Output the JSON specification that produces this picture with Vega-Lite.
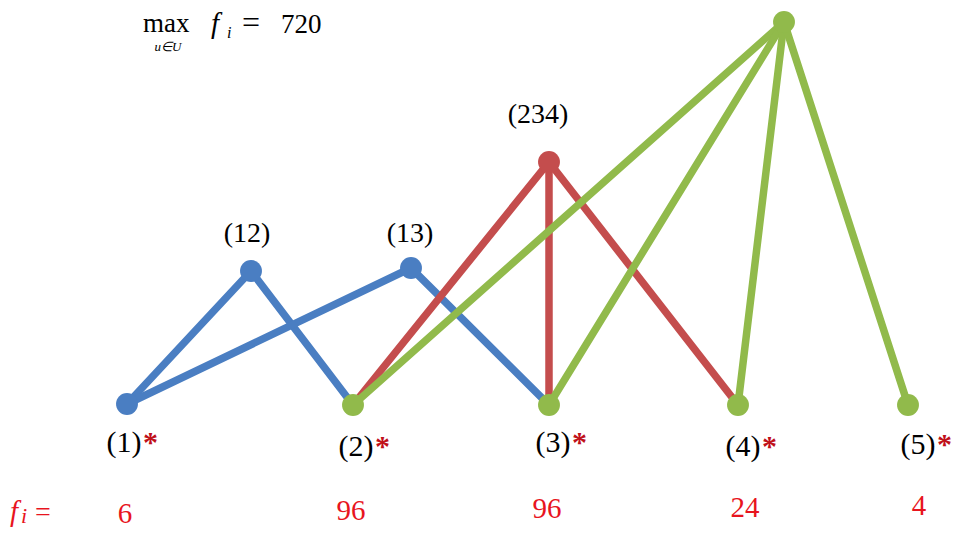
{
  "$schema": "https://vega.github.io/schema/vega-lite/v6.json",
  "width": 960,
  "height": 533,
  "autosize": {"type": "fit", "contains": "padding"},
  "padding": 0,
  "background": "white",
  "config": {"view": {"stroke": null}},
  "datasets": {
    "edges": [
      {"edge": "1-12", "grp": "a", "x": 127, "y": 404, "x2": 251, "y2": 271},
      {"edge": "12-2", "grp": "a", "x": 251, "y": 271, "x2": 353, "y2": 405},
      {"edge": "1-13", "grp": "a", "x": 127, "y": 404, "x2": 411, "y2": 268},
      {"edge": "13-3", "grp": "a", "x": 411, "y": 268, "x2": 549, "y2": 405},
      {"edge": "234-2", "grp": "b", "x": 549, "y": 162, "x2": 353, "y2": 405},
      {"edge": "234-3", "grp": "b", "x": 549, "y": 162, "x2": 549, "y2": 405},
      {"edge": "234-4", "grp": "b", "x": 549, "y": 162, "x2": 738, "y2": 405},
      {"edge": "top-2", "grp": "c", "x": 784, "y": 22, "x2": 353, "y2": 405},
      {"edge": "top-3", "grp": "c", "x": 784, "y": 22, "x2": 549, "y2": 405},
      {"edge": "top-4", "grp": "c", "x": 784, "y": 22, "x2": 738, "y2": 405},
      {"edge": "top-5", "grp": "c", "x": 784, "y": 22, "x2": 908, "y2": 405}
    ],
    "nodes": [
      {"node": "1", "grp": "a", "x": 127, "y": 404},
      {"node": "12", "grp": "a", "x": 251, "y": 271},
      {"node": "13", "grp": "a", "x": 411, "y": 268},
      {"node": "234", "grp": "b", "x": 549, "y": 162},
      {"node": "2", "grp": "c", "x": 353, "y": 405},
      {"node": "3", "grp": "c", "x": 549, "y": 405},
      {"node": "4", "grp": "c", "x": 738, "y": 405},
      {"node": "5", "grp": "c", "x": 908, "y": 405},
      {"node": "2345", "grp": "c", "x": 784, "y": 22}
    ],
    "inner": [
      {"label": "(12)", "x": 247, "y": 242},
      {"label": "(13)", "x": 410, "y": 242},
      {"label": "(234)", "x": 538, "y": 123}
    ],
    "leaves": [
      {"label": "(1)", "x": 124, "y": 452},
      {"label": "(2)", "x": 356, "y": 456},
      {"label": "(3)", "x": 553, "y": 452},
      {"label": "(4)", "x": 743, "y": 456},
      {"label": "(5)", "x": 918, "y": 454}
    ],
    "fvals": [
      {"f": "6", "x": 125, "y": 523},
      {"f": "96", "x": 351, "y": 520},
      {"f": "96", "x": 547, "y": 518},
      {"f": "24", "x": 745, "y": 517},
      {"f": "4", "x": 919, "y": 515}
    ]
  },
  "encoding": {
    "x": {"field": "x", "type": "quantitative", "scale": {"domain": [0, 960]}, "axis": null},
    "y": {"field": "y", "type": "quantitative", "scale": {"domain": [0, 533], "reverse": true}, "axis": null}
  },
  "layer": [
    {
      "data": {"name": "edges"},
      "mark": {"type": "rule", "strokeWidth": 7.5, "strokeCap": "round"},
      "encoding": {
        "x2": {"field": "x2"},
        "y2": {"field": "y2"},
        "color": {"field": "grp", "type": "nominal", "legend": null,
          "scale": {"domain": ["a", "b", "c"], "range": ["#4A7EC2", "#C44D4D", "#91BA4B"]}}
      }
    },
    {
      "data": {"name": "nodes"},
      "mark": {"type": "point", "filled": true, "shape": "circle", "size": 480, "opacity": 1},
      "encoding": {
        "color": {"field": "grp", "type": "nominal", "legend": null,
          "scale": {"domain": ["a", "b", "c"], "range": ["#4A7EC2", "#C44D4D", "#91BA4B"]}}
      }
    },
    {
      "data": {"name": "inner"},
      "mark": {"type": "text", "font": "Liberation Serif", "fontSize": 28, "color": "black", "align": "center", "baseline": "alphabetic"},
      "encoding": {"text": {"field": "label"}}
    },
    {
      "data": {"name": "leaves"},
      "mark": {"type": "text", "font": "Liberation Serif", "fontSize": 30, "color": "black", "align": "center", "baseline": "alphabetic"},
      "encoding": {"text": {"field": "label"}}
    },
    {
      "data": {"name": "leaves"},
      "mark": {"type": "text", "font": "Liberation Serif", "fontSize": 30, "fontWeight": "bold", "color": "#C0101A", "align": "left", "baseline": "alphabetic", "dx": 19},
      "encoding": {"text": {"value": "*"}}
    },
    {
      "data": {"name": "fvals"},
      "mark": {"type": "text", "font": "Liberation Serif", "fontSize": 29, "color": "#E8141E", "align": "center", "baseline": "alphabetic"},
      "encoding": {"text": {"field": "f"}}
    },
    {
      "data": {"values": [{"t": "f", "x": 10, "y": 521}]},
      "mark": {"type": "text", "font": "Liberation Serif", "fontSize": 29, "fontStyle": "italic", "color": "#E8141E", "align": "left", "baseline": "alphabetic"},
      "encoding": {"text": {"field": "t"}}
    },
    {
      "data": {"values": [{"t": "i", "x": 21, "y": 523}]},
      "mark": {"type": "text", "font": "Liberation Serif", "fontSize": 22, "fontStyle": "italic", "color": "#E8141E", "align": "left", "baseline": "alphabetic"},
      "encoding": {"text": {"field": "t"}}
    },
    {
      "data": {"values": [{"t": "=", "x": 35, "y": 521}]},
      "mark": {"type": "text", "font": "Liberation Serif", "fontSize": 28, "color": "#E8141E", "align": "left", "baseline": "alphabetic"},
      "encoding": {"text": {"field": "t"}}
    },
    {
      "data": {"values": [{"t": "max", "x": 143, "y": 32}, {"t": "720", "x": 281, "y": 33}]},
      "mark": {"type": "text", "font": "Liberation Serif", "fontSize": 27, "color": "black", "align": "left", "baseline": "alphabetic"},
      "encoding": {"text": {"field": "t"}}
    },
    {
      "data": {"values": [{"t": "=", "x": 242, "y": 33}]},
      "mark": {"type": "text", "font": "Liberation Serif", "fontSize": 32, "color": "black", "align": "left", "baseline": "alphabetic"},
      "encoding": {"text": {"field": "t"}}
    },
    {
      "data": {"values": [{"t": "u∈U", "x": 168, "y": 51}]},
      "mark": {"type": "text", "font": "Liberation Serif", "fontSize": 13, "fontStyle": "italic", "color": "black", "align": "center", "baseline": "alphabetic"},
      "encoding": {"text": {"field": "t"}}
    },
    {
      "data": {"values": [{"t": "f", "x": 211, "y": 33}]},
      "mark": {"type": "text", "font": "Liberation Serif", "fontSize": 29, "fontStyle": "italic", "color": "black", "align": "left", "baseline": "alphabetic"},
      "encoding": {"text": {"field": "t"}}
    },
    {
      "data": {"values": [{"t": "i", "x": 227, "y": 38}]},
      "mark": {"type": "text", "font": "Liberation Serif", "fontSize": 16, "fontStyle": "italic", "color": "black", "align": "left", "baseline": "alphabetic"},
      "encoding": {"text": {"field": "t"}}
    }
  ]
}
